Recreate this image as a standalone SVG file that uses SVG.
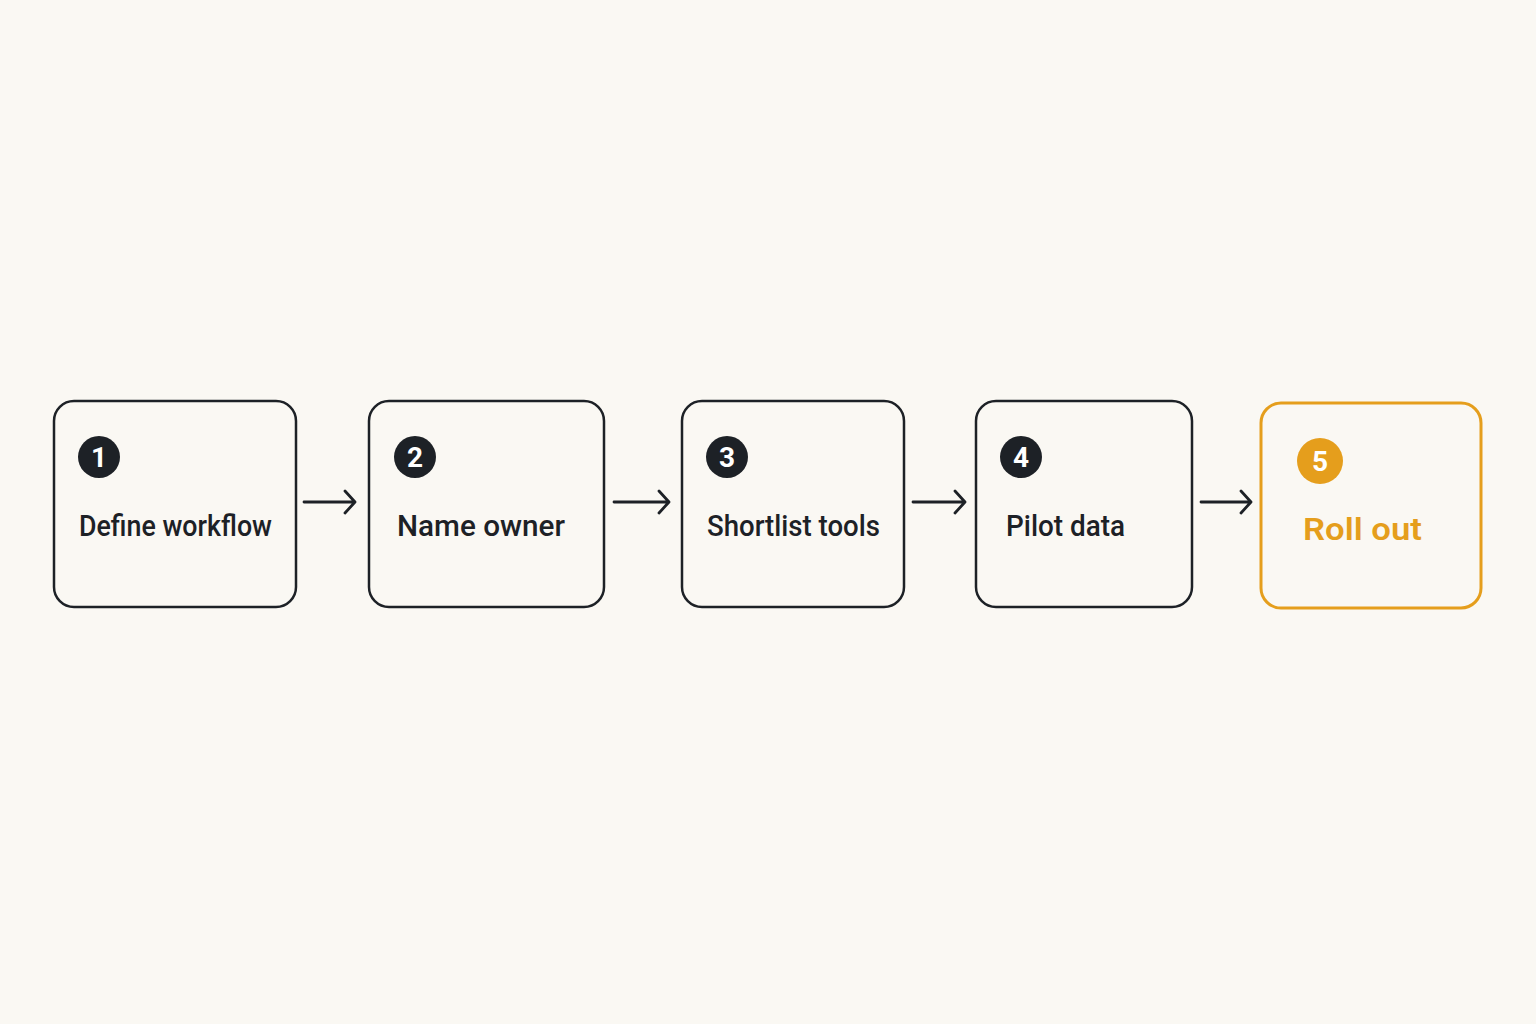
<svg xmlns="http://www.w3.org/2000/svg" width="1536" height="1024" viewBox="0 0 1536 1024">
<defs>
<style>
.box{fill:#faf8f3;stroke:#1d2126;stroke-width:2.5}
.boxa{fill:#faf8f3;stroke:#e59e1c;stroke-width:3}
.badge{fill:#1d2126}
.badgea{fill:#e59e1c}
.num{font-family:Roboto,"Liberation Sans",sans-serif;font-weight:700;font-size:28px;fill:#ffffff;text-anchor:middle}
.lbl{font-family:Roboto,"Liberation Sans",sans-serif;font-weight:500;font-size:29px;fill:#1d2126}
.lbla{font-family:Roboto,"Liberation Sans",sans-serif;font-weight:600;font-size:32px;fill:#e59e1c}
.conn{stroke:#1d2126;stroke-width:2.8;fill:none;stroke-linecap:round;stroke-linejoin:round}
</style>
</defs>
<rect width="1536" height="1024" fill="#faf8f3"/>
<g id="connectors">
<path class="conn" d="M304 502 H354 M345 491 L355 502 L345 513"/>
<path class="conn" d="M614 502 H668 M659 491 L669 502 L659 513"/>
<path class="conn" d="M913 502 H964 M955 491 L965 502 L955 513"/>
<path class="conn" d="M1201 502 H1250 M1241 491 L1251 502 L1241 513"/>
</g>
<g id="node1">
<rect class="box" x="54" y="401" width="242" height="206" rx="20"/>
<circle class="badge" cx="99" cy="457" r="21"/>
<text class="num" x="99" y="467">1</text>
<text class="lbl" x="79" y="536" textLength="193" lengthAdjust="spacingAndGlyphs">Define workflow</text>
</g>
<g id="node2">
<rect class="box" x="369" y="401" width="235" height="206" rx="20"/>
<circle class="badge" cx="415" cy="457" r="21"/>
<text class="num" x="415" y="467">2</text>
<text class="lbl" x="397" y="536" textLength="168" lengthAdjust="spacingAndGlyphs">Name owner</text>
</g>
<g id="node3">
<rect class="box" x="682" y="401" width="222" height="206" rx="20"/>
<circle class="badge" cx="727" cy="457" r="21"/>
<text class="num" x="727" y="467">3</text>
<text class="lbl" x="707" y="536" textLength="173" lengthAdjust="spacingAndGlyphs">Shortlist tools</text>
</g>
<g id="node4">
<rect class="box" x="976" y="401" width="216" height="206" rx="20"/>
<circle class="badge" cx="1021" cy="457" r="21"/>
<text class="num" x="1021" y="467">4</text>
<text class="lbl" x="1006" y="536" textLength="119" lengthAdjust="spacingAndGlyphs">Pilot data</text>
</g>
<g id="node5">
<rect class="boxa" x="1261" y="403" width="220" height="205" rx="20"/>
<circle class="badgea" cx="1320" cy="461" r="23"/>
<text class="num" x="1320" y="471">5</text>
<text class="lbla" x="1303" y="540" textLength="119" lengthAdjust="spacingAndGlyphs">Roll out</text>
</g>
</svg>
